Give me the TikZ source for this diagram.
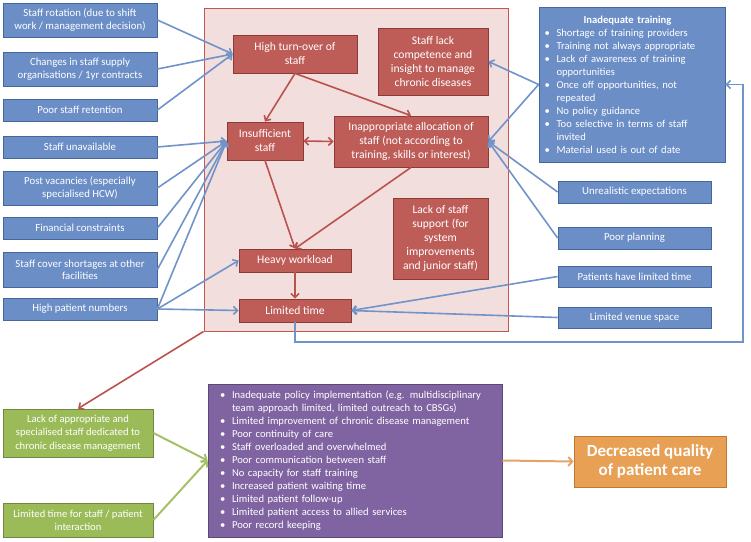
\documentclass[tikz,border=0pt]{standalone}
\usepackage{fontspec}
\setmainfont{Carlito}
\usetikzlibrary{arrows.meta,calc}
\definecolor{bfill}{RGB}{107,142,199}
\definecolor{bdraw}{RGB}{68,103,155}
\definecolor{barrow}{RGB}{112,147,201}
\definecolor{rfill}{RGB}{190,92,88}
\definecolor{rdraw}{RGB}{140,58,55}
\definecolor{rarrow}{RGB}{186,82,78}
\definecolor{pinkfill}{RGB}{242,222,221}
\definecolor{pinkdraw}{RGB}{196,86,82}
\definecolor{gfill}{RGB}{155,187,89}
\definecolor{gdraw}{RGB}{113,137,63}
\definecolor{garrow}{RGB}{164,193,103}
\definecolor{pfill}{RGB}{128,100,162}
\definecolor{pdraw}{RGB}{92,71,118}
\definecolor{ofill}{RGB}{232,160,84}
\definecolor{odraw}{RGB}{190,120,50}
\definecolor{oarrow}{RGB}{226,165,105}
\newcommand{\bi}{\makebox[12pt][l]{•}}
\newcommand{\bc}{\hspace*{12pt}}
\tikzset{
  box/.style={draw, line width=0.8pt, text=white, align=center, inner sep=2pt},
  lbox/.style={box, fill=bfill, draw=bdraw, minimum width=154pt, font=\fontsize{10.8}{12.4}\selectfont},
  rbbox/.style={box, fill=bfill, draw=bdraw, minimum width=153pt, minimum height=22pt, font=\fontsize{10.8}{12.4}\selectfont},
  redbox/.style={box, fill=rfill, draw=rdraw, font=\fontsize{11.6}{14}\selectfont},
  gbox/.style={box, fill=gfill, draw=gdraw, minimum width=150pt, font=\fontsize{10.6}{13.3}\selectfont},
  barr/.style={draw=barrow, line width=1.6pt, -{Straight Barb[length=4pt,width=8pt]}},
  rarr/.style={draw=rarrow, line width=1.6pt, -{Straight Barb[length=4pt,width=8pt]}},
  garr/.style={draw=garrow, line width=2pt, -{Straight Barb[length=4pt,width=9pt]}},
  oarr/.style={draw=oarrow, line width=2pt, -{Straight Barb[length=4pt,width=9pt]}},
}
\begin{document}
\begin{tikzpicture}[x=1pt,y=-1pt]
\useasboundingbox (0,0) rectangle (751,541);
% background area
\node[draw=pinkdraw, fill=pinkfill, line width=1pt, minimum width=304pt, minimum height=323pt, inner sep=0pt] (area) at (356,169.5) {};

% left blue boxes
\node[lbox, minimum height=34pt] (b1) at (80,20) {Staff rotation (due to shift\\work / management decision)};
\node[lbox, minimum height=34pt] (b2) at (80,69) {Changes in staff supply\\organisations / 1yr contracts};
\node[lbox, minimum height=22pt] (b3) at (80,110) {Poor staff retention};
\node[lbox, minimum height=22pt] (b4) at (80,147) {Staff unavailable};
\node[lbox, minimum height=34pt] (b5) at (80,188) {Post vacancies (especially\\specialised HCW)};
\node[lbox, minimum height=22pt] (b6) at (80,228) {Financial constraints};
\node[lbox, minimum height=35pt] (b7) at (80,269.5) {Staff cover shortages at other\\facilities};
\node[lbox, minimum height=22pt] (b8) at (80,309) {High patient numbers};

% red boxes
\node[redbox, minimum width=124pt, minimum height=38pt] (hto) at (295,54) {High turn-over of\\staff};
\node[redbox, minimum width=110pt, minimum height=67pt] (slc) at (433,61.5) {Staff lack\\competence and\\insight to manage\\chronic diseases};
\node[redbox, minimum width=76pt, minimum height=38pt] (ins) at (265,141) {Insufficient\\staff};
\node[redbox, minimum width=154pt, minimum height=51pt] (ina) at (411,141.5) {Inappropriate allocation of\\staff (not according to\\training, skills or interest)};
\node[redbox, minimum width=95pt, minimum height=81pt] (lss) at (440.5,238.5) {Lack of staff\\support (for\\system\\improvements\\and junior staff)};
\node[redbox, minimum width=112pt, minimum height=23pt] (hw) at (295,260.5) {Heavy workload};
\node[redbox, minimum width=112pt, minimum height=23pt] (lt) at (295,310.5) {Limited time};

% right blue boxes
\node[box, fill=bfill, draw=bdraw, text width=175pt, align=left, inner xsep=5.5pt, minimum height=155pt, font=\fontsize{10.6}{13}\selectfont] (tr) at (632,84.5) {\makebox[166pt][c]{\bfseries Inadequate training}\\
\bi Shortage of training providers\\
\bi Training not always appropriate\\
\bi Lack of awareness of training\\
\bc opportunities\\
\bi Once off opportunities, not\\
\bc repeated\\
\bi No policy guidance\\
\bi Too selective in terms of staff\\
\bc invited\\
\bi Material used is out of date};
\node[rbbox] (ue) at (634.5,192) {Unrealistic expectations};
\node[rbbox] (pp) at (634.5,238) {Poor planning};
\node[rbbox, minimum height=21pt] (plt) at (634.5,276.5) {Patients have limited time};
\node[rbbox, minimum height=21pt] (lvs) at (634.5,317.5) {Limited venue space};

% bottom row
\node[gbox, minimum height=48pt] (g1) at (78,433) {Lack of appropriate and\\specialised staff dedicated to\\chronic disease management};
\node[gbox, minimum height=34pt] (g2) at (78,520) {Limited time for staff / patient\\interaction};
\node[box, fill=pfill, draw=pdraw, text width=270pt, align=left, inner xsep=12pt, minimum height=153pt, font=\fontsize{10.6}{13}\selectfont] (pur) at (355,460.5) {\bi Inadequate policy implementation (e.g. multidisciplinary\\
\bc team approach limited, limited outreach to CBSGs)\\
\bi Limited improvement of chronic disease management\\
\bi Poor continuity of care\\
\bi Staff overloaded and overwhelmed\\
\bi Poor communication between staff\\
\bi No capacity for staff training\\
\bi Increased patient waiting time\\
\bi Limited patient follow-up\\
\bi Limited patient access to allied services\\
\bi Poor record keeping};
\node[box, fill=ofill, draw=odraw, minimum width=152pt, minimum height=51pt, font=\fontsize{17}{19.5}\selectfont\bfseries] (orq) at (650,461.5) {Decreased quality\\of patient care};

% blue arrows (left)
\draw[barr] (b1.east) -- (hto.west);
\draw[barr] (b2.east) -- (hto.west);
\draw[barr] (b3.east) -- (hto.west);
\draw[barr] (b4.east) -- (ins.west);
\draw[barr] (b5.east) -- (ins.west);
\draw[barr] (b6.east) -- (ins.west);
\draw[barr] (b7.east) -- (ins.west);
\draw[barr] (b8.east) -- (ins.west);
\draw[barr] (b8.east) -- (hw.west);
\draw[barr] (b8.east) -- (lt.west);

% red arrows
\draw[rarr] (hto.south) -- (ins.north);
\draw[rarr] (hto.south) -- (ina.north);
\draw[rarr, {Straight Barb[length=4pt,width=8pt]}-{Straight Barb[length=4pt,width=8pt]}] (ins.east) -- (ina.west);
\draw[rarr] (ins.south) -- (hw.north);
\draw[rarr] (ina.south) -- (hw.north);
\draw[rarr] (hw.south) -- (lt.north);
\draw[rarr] (area.south west) -- (g1.north);

% blue arrows (right)
\draw[barr] (tr.west) -- (slc.east);
\draw[barr] (tr.west) -- (ina.east);
\draw[barr] (ue.west) -- (ina.east);
\draw[barr] (pp.west) -- (ina.east);
\draw[barr] (plt.west) -- (lt.east);
\draw[barr] (lvs.west) -- (lt.east);
\coordinate (loopc) at (743,342);
\draw[barr] (lt.south) |- (loopc) |- (tr.east);

% bottom arrows
\draw[garr] (g1.east) -- (pur.west);
\draw[garr] (g2.east) -- (pur.west);
\draw[oarr] (pur.east) -- (orq.west);
\end{tikzpicture}
\end{document}
